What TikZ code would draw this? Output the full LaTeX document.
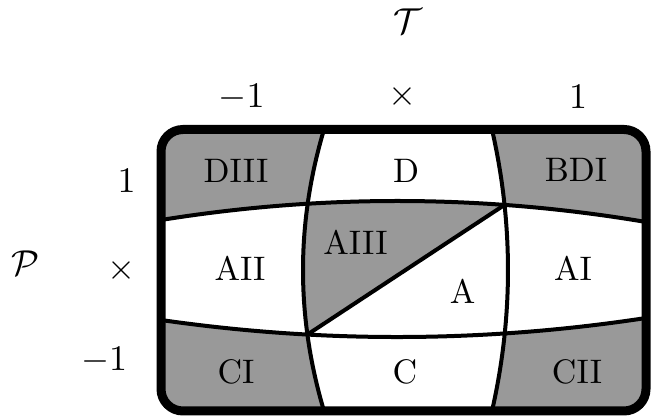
\documentclass[tikz,border=0pt]{standalone}
\usetikzlibrary{intersections,calc}
\tikzset{
  cell/.style={scale=3.4, inner sep=0pt},
  axis/.style={scale=3.6, inner sep=0pt},
  grayfill/.style={fill=black!40},
  inner/.style={line width=4pt},
}
\def\VLc{(324,129.5) .. controls (296,223.2) and (296,317) .. (324,411)}
\def\VRc{(492,129.5) .. controls (513.3,223.2) and (513.3,317) .. (492,411)}
\def\HTc{(161,220) .. controls (322.7,194) and (484.3,194.7) .. (646,222)}
\def\HBc{(161,320) .. controls (322.7,343.3) and (484.3,342.7) .. (646,318)}
\begin{document}
\begin{tikzpicture}[x=1pt,y=-1pt]
\useasboundingbox (0,0) rectangle (651,419);
\path[name path=vl] \VLc;
\path[name path=vr] \VRc;
\path[name path=ht] \HTc;
\path[name path=hb] \HBc;
\path[name intersections={of=vl and hb, by=pBL}];
\path[name intersections={of=vr and ht, by=pTR}];
\begin{scope}
  \clip[rounded corners=22pt] (161,129.5) rectangle (646,411);
  \begin{scope}
    \clip (0,0) -- (324,0) -- \VLc -- (324,419) -- (0,419) -- cycle;
    \clip (0,0) -- (161,0) -- \HTc -- (651,222) -- (651,0) -- cycle;
    \fill[grayfill] (0,0) rectangle (651,419);
  \end{scope}
  \begin{scope}
    \clip (651,0) -- (492,0) -- \VRc -- (492,419) -- (651,419) -- cycle;
    \clip (0,0) -- (161,0) -- \HTc -- (651,222) -- (651,0) -- cycle;
    \fill[grayfill] (0,0) rectangle (651,419);
  \end{scope}
  \begin{scope}
    \clip (0,0) -- (324,0) -- \VLc -- (324,419) -- (0,419) -- cycle;
    \clip (0,419) -- (161,419) -- \HBc -- (651,318) -- (651,419) -- cycle;
    \fill[grayfill] (0,0) rectangle (651,419);
  \end{scope}
  \begin{scope}
    \clip (651,0) -- (492,0) -- \VRc -- (492,419) -- (651,419) -- cycle;
    \clip (0,419) -- (161,419) -- \HBc -- (651,318) -- (651,419) -- cycle;
    \fill[grayfill] (0,0) rectangle (651,419);
  \end{scope}
  % AIII triangle
  \begin{scope}
    \clip (651,0) -- (324,0) -- \VLc -- (324,419) -- (651,419) -- cycle;
    \clip (0,419) -- (0,220) -- \HTc -- (651,419) -- cycle;
    \clip (pBL) -- (pTR) -- (600,0) -- (0,0) -- (0,419) -- cycle;
    \fill[grayfill] (0,0) rectangle (651,419);
  \end{scope}
\end{scope}
\draw[inner] \VLc;
\draw[inner] \VRc;
\draw[inner] \HTc;
\draw[inner] \HBc;
\draw[inner] (pBL) -- (pTR);
\draw[line width=9pt, rounded corners=22pt] (161,129.5) rectangle (646,411);
% cell labels
\node[cell] (diii) at (236,171) {DIII};
\node[cell] (d) at (406,171) {D};
\node[cell] (bdi) at (576,170) {BDI};
\node[cell] (aii) at (240,268) {AII};
\node[cell] (aiii) at (355.5,242) {AIII};
\node[cell] (a) at (462.5,291) {A};
\node[cell] (ai) at (573,268) {AI};
\node[cell] (ci) at (236,372) {CI};
\node[cell] (c) at (405,372) {C};
\node[cell] (cii) at (577,372) {CII};
% axis labels
\node[axis] (tlab) at (408,21) {$\mathcal{T}$};
\node[axis] (tm) at (241.6,97) {$-1$};
\node[axis] (tx) at (402,97) {$\times$};
\node[axis] (tp) at (578,97) {$1$};
\node[axis] (plab) at (25,263) {$\mathcal{P}$};
\node[axis] (pp) at (126.5,181) {$1$};
\node[axis] (px) at (121.5,271) {$\times$};
\node[axis] (pm) at (104,360) {$-1$};
\end{tikzpicture}
\end{document}
